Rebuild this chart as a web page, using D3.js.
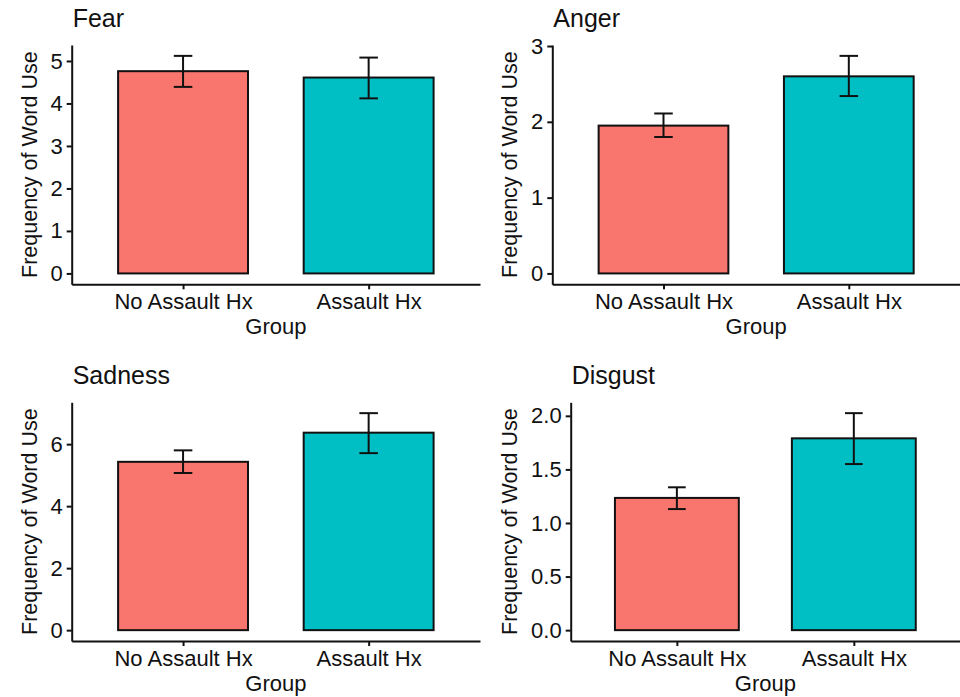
<!DOCTYPE html>
<html>
<head>
<meta charset="utf-8">
<script src="https://cdn.jsdelivr.net/npm/d3@7"></script>
<style>
  html, body { margin: 0; padding: 0; background: #fff; }
  svg { display: block; }
  text { font-family: "Liberation Sans", Arial, Helvetica, sans-serif; fill: #111; }
</style>
</head>
<body>
<svg id="chart" width="960" height="697"></svg>
<script>
// Word-use frequency by assault history, one panel per emotion
const groups = ["No Assault Hx", "Assault Hx"];
const emotions = ["Fear", "Anger", "Sadness", "Disgust"];
const groupColors = ["#F8766D", "#00BFC4"];

// mean and standard-error bounds for each emotion (rows) and group (columns)
const meanValues  = [[4.76, 4.61], [1.95, 2.60], [5.43, 6.37], [1.234, 1.79]];
const lowerValues = [[4.39, 4.12], [1.80, 2.34], [5.07, 5.71], [1.13, 1.55]];
const upperValues = [[5.12, 5.08], [2.11, 2.87], [5.80, 7.00], [1.333, 2.025]];

// y-axis tick labels for each panel
const tickLabels = [
  ["0", "1", "2", "3", "4", "5"],
  ["0", "1", "2", "3"],
  ["0", "2", "4", "6"],
  ["0.0", "0.5", "1.0", "1.5", "2.0"]
];

const xTitle = "Group";
const yTitle = "Frequency of Word Use";

// panel frames: plotting area of each facet
const frames = [
  { left: 71.7,  right: 480, top: 45,    bottom: 284.3, ox: 0,   oy: 0 },
  { left: 552.3, right: 960, top: 45,    bottom: 284.3, ox: 480, oy: 0 },
  { left: 71.7,  right: 480, top: 402.3, bottom: 641,   ox: 0,   oy: 357.3 },
  { left: 570.7, right: 960, top: 402.3, bottom: 641,   ox: 480, oy: 357.3 }
];

const ink = "#111";
const svg = d3.select("#chart");

emotions.forEach((emotion, i) => {
  const f = frames[i];
  const g = svg.append("g");

  const rows = groups.map((grp, j) => ({
    group: grp,
    mean: meanValues[i][j],
    lo: lowerValues[i][j],
    hi: upperValues[i][j],
    color: groupColors[j]
  }));

  // continuous scale with 5% expansion on both ends
  const yMax = d3.max(rows, d => d.hi);
  const pad = yMax * 0.05;
  const y = d3.scaleLinear().domain([-pad, yMax + pad]).range([f.bottom, f.top]);

  const x = d3.scalePoint().domain(groups).range([f.left, f.right]).padding(0.6);
  const step = x.step();
  const barW = step * 0.7;
  const capW = step * 0.1;

  // bars
  g.selectAll("rect.bar").data(rows).enter().append("rect")
    .attr("class", "bar")
    .attr("x", d => x(d.group) - barW / 2)
    .attr("y", d => y(d.mean))
    .attr("width", barW)
    .attr("height", d => y(0) - y(d.mean))
    .attr("fill", d => d.color)
    .attr("stroke", ink)
    .attr("stroke-width", 2);

  // error bars
  const eb = g.selectAll("g.err").data(rows).enter().append("g")
    .attr("class", "err")
    .attr("stroke", ink)
    .attr("stroke-width", 2)
    .attr("fill", "none");
  eb.append("line")
    .attr("x1", d => x(d.group)).attr("x2", d => x(d.group))
    .attr("y1", d => y(d.lo)).attr("y2", d => y(d.hi));
  eb.append("line")
    .attr("x1", d => x(d.group) - capW / 2).attr("x2", d => x(d.group) + capW / 2)
    .attr("y1", d => y(d.hi)).attr("y2", d => y(d.hi));
  eb.append("line")
    .attr("x1", d => x(d.group) - capW / 2).attr("x2", d => x(d.group) + capW / 2)
    .attr("y1", d => y(d.lo)).attr("y2", d => y(d.lo));

  // y axis
  const yAxis = d3.axisLeft(y)
    .tickValues(tickLabels[i].map(Number))
    .tickFormat((v, k) => tickLabels[i][k])
    .tickSize(5)
    .tickPadding(4)
    .tickSizeOuter(0);
  const ya = g.append("g").attr("transform", `translate(${f.left},0)`).call(yAxis);
  ya.select(".domain").attr("stroke", ink).attr("stroke-width", 2);
  ya.selectAll(".tick line").attr("stroke", ink).attr("stroke-width", 2);
  ya.selectAll(".tick text").attr("font-size", 22).attr("fill", ink)
    .style("font-family", "'Liberation Sans', Arial, sans-serif");

  // x axis
  const xAxis = d3.axisBottom(x).tickSize(5).tickPadding(4).tickSizeOuter(0);
  const xa = g.append("g").attr("transform", `translate(0,${f.bottom})`).call(xAxis);
  xa.select(".domain").attr("stroke", ink).attr("stroke-width", 2);
  xa.selectAll(".tick line").attr("stroke", ink).attr("stroke-width", 2);
  xa.selectAll(".tick text").attr("font-size", 22).attr("fill", ink)
    .style("font-family", "'Liberation Sans', Arial, sans-serif");

  // axis titles
  g.append("text")
    .attr("x", (f.left + f.right) / 2)
    .attr("y", f.bottom + 50)
    .attr("text-anchor", "middle")
    .attr("font-size", 22)
    .text(xTitle);

  g.append("text")
    .attr("transform", `translate(${f.ox + 37},${(f.top + f.bottom) / 2}) rotate(-90)`)
    .attr("text-anchor", "middle")
    .attr("font-size", 21.5)
    .text(yTitle);

  // panel title
  g.append("text")
    .attr("x", f.left + 1)
    .attr("y", f.oy + 27)
    .attr("font-size", 25)
    .text(emotion);
});
</script>
</body>
</html>
